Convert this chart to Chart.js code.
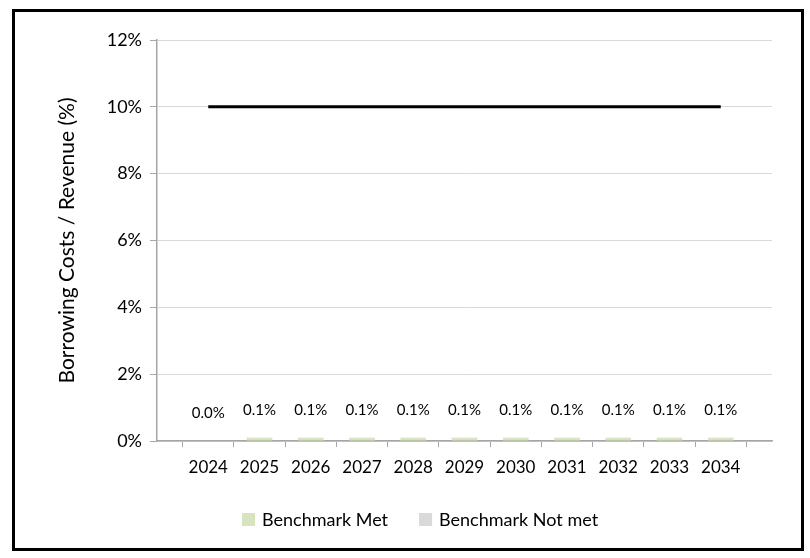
<!DOCTYPE html>
<html lang="en">
<head>
  <meta charset="UTF-8">
  <title>Borrowing Costs / Revenue</title>
  <script src="https://cdn.jsdelivr.net/npm/chart.js"></script>
  <style>
    body { margin: 0; background: #fff; }
    #chart { display: block; }
  </style>
</head>
<body>
  <canvas id="chart" width="810" height="558"></canvas>

  <script>
  // categories (blank slots at both ends, like the original axis)
  const years = ['', '2024', '2025', '2026', '2027', '2028', '2029', '2030', '2031', '2032', '2033', '2034', ''];
  const benchmarkMet    = [null, 0.0, 0.1, 0.1, 0.1, 0.1, 0.1, 0.1, 0.1, 0.1, 0.1, 0.1, null];
  const benchmarkNotMet = [null, null, null, null, null, null, null, null, null, null, null, null, null];
  const benchmarkLine   = [null, 10, 10, 10, 10, 10, 10, 10, 10, 10, 10, 10, null];
  const yTicks = [0, 2, 4, 6, 8, 10, 12];

  const FONT = 'Lato, "Open Sans", sans-serif';
  const GREEN = '#d7e4bd';
  const GREY  = '#d9d9d9';

  // outer frame + white background
  const framePlugin = {
    id: 'frame',
    beforeDraw(chart) {
      const c = chart.ctx;
      c.save();
      c.fillStyle = '#fff';
      c.fillRect(0, 0, chart.width, chart.height);
      c.strokeStyle = '#000';
      c.lineWidth = 3;
      c.strokeRect(13.5, 10.5, 789, 539);
      c.restore();
    }
  };

  // value labels above the "met" bars
  const valueLabels = {
    id: 'valueLabels',
    afterDatasetsDraw(chart) {
      const c = chart.ctx;
      const meta = chart.getDatasetMeta(0);
      c.save();
      c.font = '15px ' + FONT;
      c.fillStyle = '#000';
      c.textAlign = 'center';
      c.textBaseline = 'middle';
      meta.data.forEach((bar, i) => {
        const v = benchmarkMet[i];
        if (v === null) return;
        c.fillText(v.toFixed(1) + '%', bar.x, bar.y - 28);
      });
      c.restore();
    }
  };

  // legend for the two bar series only
  const legendPlugin = {
    id: 'customLegend',
    afterDraw(chart) {
      const c = chart.ctx;
      c.save();
      c.font = '18px ' + FONT;
      c.textBaseline = 'middle';
      c.fillStyle = '#000';
      let x = 242;
      const y = 520;
      chart.data.datasets.filter(d => d.type === 'bar').forEach(d => {
        c.fillStyle = d.legendColor;
        c.fillRect(x, y - 7, 13, 13);
        c.fillStyle = '#000';
        c.fillText(d.label, x + 20, y);
        x += 20 + c.measureText(d.label).width + 31;
      });
      c.restore();
    }
  };

  const chart = new Chart(document.getElementById('chart'), {
    data: {
      labels: years,
      datasets: [
        {
          type: 'bar',
          label: 'Benchmark Met',
          data: benchmarkMet,
          backgroundColor: GREEN,
          legendColor: GREEN,
          grouped: false,
          barPercentage: 0.5,
          categoryPercentage: 1
        },
        {
          type: 'bar',
          label: 'Benchmark Not met',
          data: benchmarkNotMet,
          backgroundColor: GREY,
          legendColor: GREY,
          grouped: false,
          barPercentage: 0.5,
          categoryPercentage: 1
        },
        {
          type: 'line',
          label: 'Benchmark',
          data: benchmarkLine,
          borderColor: '#000',
          borderWidth: 3,
          pointRadius: 0,
          fill: false,
          order: -1
        }
      ]
    },
    options: {
      responsive: false,
      animation: false,
      layout: { padding: { left: 14, right: 38, top: 40, bottom: 44 } },
      plugins: {
        legend: { display: false },
        tooltip: { enabled: false }
      },
      scales: {
        x: {
          offset: false,
          grid: {
            drawOnChartArea: false,
            tickLength: 6,
            tickColor: '#a6a6a6'
          },
          border: { color: '#a6a6a6', width: 1.5 },
          ticks: {
            autoSkip: false,
            maxRotation: 0,
            padding: 10,
            color: '#000',
            font: { family: FONT, size: 17 }
          },
          afterFit(s) { s.height = 73; }
        },
        y: {
          min: 0,
          max: 12,
          afterBuildTicks(s) { s.ticks = yTicks.map(v => ({ value: v })); },
          grid: {
            color: GREY,
            tickLength: 7,
            tickColor: '#a6a6a6'
          },
          border: { color: '#a6a6a6', width: 1.5 },
          ticks: {
            padding: 8,
            color: '#000',
            font: { family: FONT, size: 18 },
            callback: v => v + '%'
          },
          title: {
            display: true,
            text: 'Borrowing Costs / Revenue (%)',
            color: '#000',
            font: { family: FONT, size: 21 },
            padding: { top: 41, bottom: 0 }
          },
          afterFit(s) { s.width = 143; }
        }
      }
    },
    plugins: [framePlugin, valueLabels, legendPlugin]
  });
  </script>
</body>
</html>
